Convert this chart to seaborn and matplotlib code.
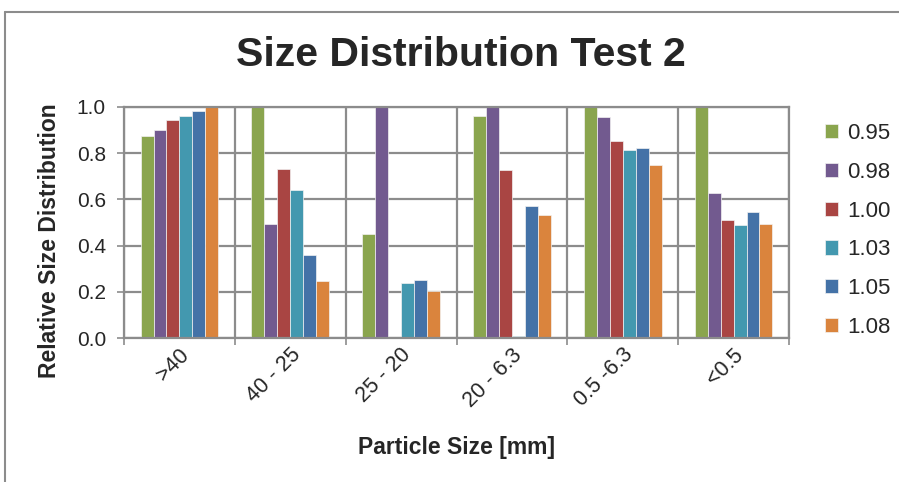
import numpy as np
import pandas as pd
import matplotlib
matplotlib.use('Agg')
import matplotlib.pyplot as plt
import matplotlib.transforms as mtransforms
import seaborn as sns
from matplotlib.lines import Line2D
from matplotlib.ticker import FormatStrFormatter, FixedLocator

# data
sizes = ['>40', '40 - 25', '25 - 20', '20 - 6.3', '0.5 -6.3', '<0.5']
series = ['0.95', '0.98', '1.00', '1.03', '1.05', '1.08']
v095 = [0.873, 1.00, 0.450, 0.962, 1.00, 1.00]
v098 = [0.900, 0.495, 1.00, 1.00, 0.958, 0.626]
v100 = [0.942, 0.731, 0.0, 0.729, 0.851, 0.511]
v103 = [0.962, 0.642, 0.238, 0.008, 0.812, 0.489]
v105 = [0.983, 0.359, 0.251, 0.573, 0.821, 0.545]
v108 = [1.00, 0.248, 0.203, 0.531, 0.749, 0.494]
colors = ['#8AA54E', '#725A8F', '#A94543', '#4398AF', '#4472A7', '#DA843D']

df = pd.DataFrame({
    'size': sizes * 6,
    'ratio': np.repeat(series, len(sizes)),
    'value': v095 + v098 + v100 + v103 + v105 + v108,
})

sns.set_theme(style='white')
plt.rcParams['font.family'] = ['Liberation Sans', 'DejaVu Sans']
grid_col = '#8C8C8C'

fig = plt.figure(figsize=(8.99, 4.82), dpi=100)
ax = fig.add_axes([124/899, 1 - 338/482, 665/899, 231/482])

sns.barplot(data=df, x='size', y='value', hue='ratio', order=sizes, hue_order=series,
            palette=colors, width=0.7, ax=ax, edgecolor='#F2F2F2', linewidth=0.5,
            errorbar=None, saturation=1)

ax.set_ylim(0, 1.0)
ax.set_xlim(-0.5, len(sizes) - 0.5)
ax.set_yticks(np.arange(0, 1.01, 0.2))
ax.yaxis.set_major_formatter(FormatStrFormatter('%.1f'))
ax.xaxis.set_minor_locator(FixedLocator(np.arange(-0.5, len(sizes), 1.0)))
ax.grid(True, which='major', axis='y', color=grid_col, linewidth=1.6)
ax.grid(True, which='minor', axis='x', color=grid_col, linewidth=1.6)
ax.set_axisbelow(True)
for s in ax.spines.values():
    s.set_color(grid_col)
    s.set_linewidth(1.6)

ax.tick_params(axis='y', which='major', length=5, width=1.2, color=grid_col,
               labelsize=15, pad=8, left=True)
ax.tick_params(axis='x', which='minor', length=5, width=1.2, color=grid_col, bottom=True)
ax.tick_params(axis='x', which='major', length=0, labelsize=15.5, pad=10)
shift = mtransforms.ScaledTranslation(7/100, 0, fig.dpi_scale_trans)
for lbl in ax.get_xticklabels():
    lbl.set_rotation(45)
    lbl.set_ha('right')
    lbl.set_va('center')
    lbl.set_rotation_mode('anchor')
    lbl.set_transform(lbl.get_transform() + shift)

ax.set_xlabel('Particle Size [mm]', fontsize=16.5, fontweight='bold', labelpad=18)
ax.set_ylabel('Relative Size Distribution', fontsize=16.5, fontweight='bold')
ax.yaxis.set_label_coords(-0.094, (338 - 241) / 231)
fig.text(461/899, 1 - 55/482, 'Size Distribution Test 2', fontsize=29.5, fontweight='bold',
         ha='center', va='center')

ax.legend(loc='upper left', bbox_to_anchor=(825/899, 1 - 123/482),
          bbox_transform=fig.transFigure, frameon=False, fontsize=16,
          handlelength=0.6, handleheight=0.6, handletextpad=0.4, labelspacing=0.8,
          borderaxespad=0, borderpad=0)

# outer chart border (top and left visible)
fig.add_artist(Line2D([5/899, 5/899], [0, 1 - 12/482], color='#8C8C8C', linewidth=1.5,
                      transform=fig.transFigure))
fig.add_artist(Line2D([5/899, 1], [1 - 12/482, 1 - 12/482], color='#8C8C8C', linewidth=1.5,
                      transform=fig.transFigure))

fig.savefig('out.png', dpi=100)
